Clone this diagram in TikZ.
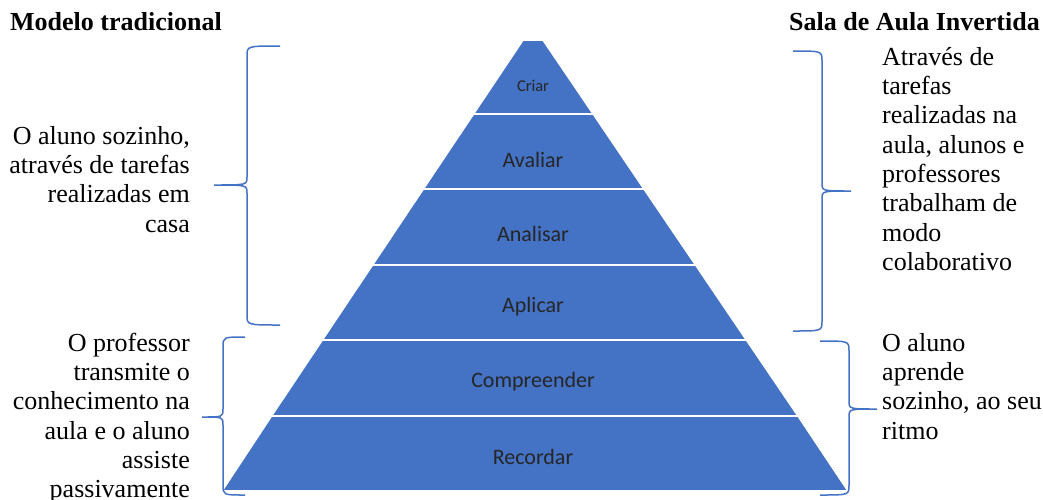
\documentclass[tikz,border=0pt]{standalone}
\usepackage{fontspec}
\setmainfont{Liberation Serif}
\newfontfamily\calfont{Carlito}
\definecolor{pblue}{HTML}{4472C4}
\newcommand\mybrace[6]{%
  \draw[bracestyle] (#1,#4) .. controls (#2,#4) .. (#2,{#4+10}) -- (#2,{#5-8})
    .. controls (#2,#5) .. (#3,#5) .. controls (#2,#5) .. (#2,{#5+8})
    -- (#2,{#6-10}) .. controls (#2,#6) .. (#1,#6);}
\tikzset{
  bracestyle/.style={draw=pblue, line width=1.5pt},
  level/.style={fill=pblue, draw=white, line width=1.6pt, line join=miter},
  sepline/.style={white, line width=1.8pt},
  lvlabel/.style={font=\calfont\fontsize{22}{26}\selectfont, text=black!85, inner sep=0pt},
  bodytext/.style={font=\fontsize{26}{29.3}\selectfont, inner sep=0pt},
  headtext/.style={font=\bfseries\fontsize{26}{30}\selectfont, inner sep=0pt},
}
\begin{document}
\begin{tikzpicture}[x=1pt,y=-1pt]
\useasboundingbox (0,0) rectangle (1043,499);
% pyramid levels
\fill[level] (523,40) -- (543,40) -- (593.2,114) -- (473.5,114) -- cycle;
\fill[level] (473.5,114) -- (593.2,114) -- (644,189) -- (423.3,189) -- cycle;
\fill[level] (423.3,189) -- (644,189) -- (695.6,265) -- (372.5,265) -- cycle;
\fill[level] (372.5,265) -- (695.6,265) -- (746.4,340) -- (322.3,340) -- cycle;
\fill[level] (322.3,340) -- (746.4,340) -- (798,416) -- (271.5,416) -- cycle;
\fill[level] (271.5,416) -- (798,416) -- (848,491) -- (222,491) -- cycle;
\draw[sepline] (470,114) -- (597,114);
\draw[sepline] (420,189) -- (647,189);
\draw[sepline] (369,265) -- (699,265);
\draw[sepline] (319,340) -- (750,340);
\draw[sepline] (268,416) -- (802,416);
% labels
\node[lvlabel, font=\calfont\fontsize{16.5}{20}\selectfont] (criar) at (533,86) {Criar};
\node[lvlabel] (avaliar) at (533,160) {Avaliar};
\node[lvlabel] (analisar) at (533,234) {Analisar};
\node[lvlabel] (aplicar) at (533,307) {Aplicar};
\node[lvlabel] (compreender) at (533,382) {Compreender};
\node[lvlabel] (recordar) at (533,457) {Recordar};
% braces
\mybrace{280}{247}{214}{46}{185}{325}
\mybrace{245}{223}{202}{337}{417}{495}
\mybrace{793}{822}{851}{51}{191}{331}
\mybrace{820}{849}{877}{341}{409}{495}
% headers
\node[headtext, anchor=base west] (hl) at (10,30) {Modelo tradicional};
\node[headtext, anchor=base east] (hr) at (1040,30) {Sala de Aula Invertida};
% texts
\node[bodytext, align=right, anchor=north east] (t1) at (190,124) {\rule{0pt}{20pt}O aluno sozinho,\\através de tarefas\\realizadas em\\casa};
\node[bodytext, align=right, anchor=north east] (t2) at (190,331) {\rule{0pt}{20pt}O professor\\transmite o\\conhecimento na\\aula e o aluno\\assiste\\passivamente};
\node[bodytext, align=left, anchor=north west] (t3) at (882,45) {\rule{0pt}{20pt}Através de\\tarefas\\realizadas na\\aula, alunos e\\professores\\trabalham de\\modo\\colaborativo};
\node[bodytext, align=left, anchor=north west] (t4) at (882,331) {\rule{0pt}{20pt}O aluno\\aprende\\sozinho, ao seu\\ritmo};
\end{tikzpicture}
\end{document}
